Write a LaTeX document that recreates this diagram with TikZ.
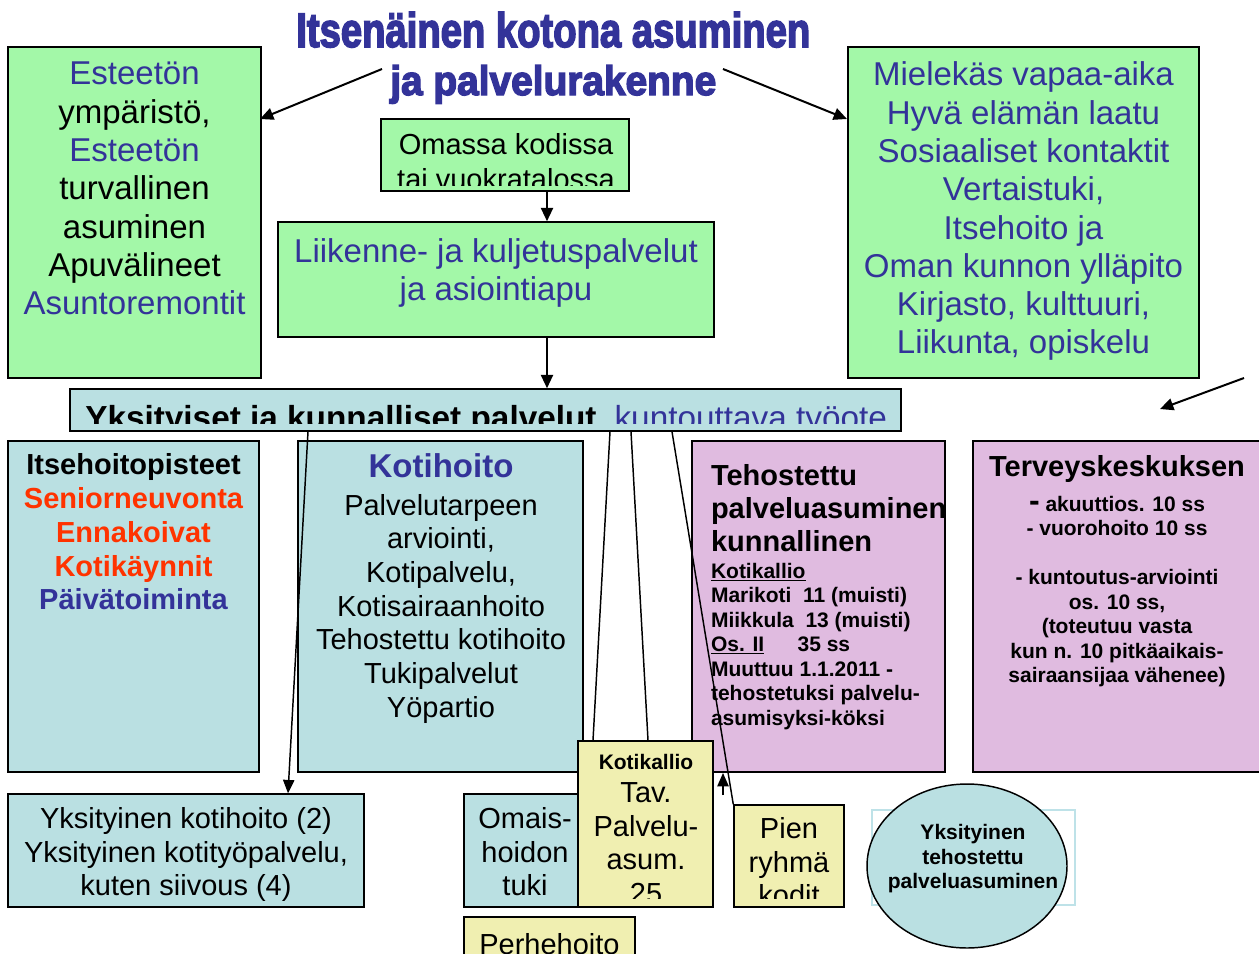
\documentclass[tikz,border=0pt]{standalone}
\usepackage{fontspec}
\setmainfont{Liberation Sans}
\newfontfamily\titlef[BoldFeatures={FakeBold=3.5}]{Liberation Sans}
\usetikzlibrary{arrows.meta,fit,shapes.geometric}
\definecolor{grn}{RGB}{163,248,168}
\definecolor{lbl}{RGB}{186,224,226}
\definecolor{pnk}{RGB}{224,187,224}
\definecolor{ylw}{RGB}{240,239,177}
\definecolor{dblue}{RGB}{51,51,153}
\definecolor{ored}{RGB}{255,51,0}
\definecolor{faint}{RGB}{190,226,232}
\newcommand\fs[2]{\fontsize{#1}{#2}\selectfont}
\begin{document}
\begin{tikzpicture}[x=0.75pt,y=-0.75pt,
  box/.style={draw=black, line width=1.1pt, inner sep=0pt},
  gbox/.style={box, fill=grn},
  bbox/.style={box, fill=lbl},
  pbox/.style={box, fill=pnk},
  ybox/.style={box, fill=ylw},
  tx/.style={inner sep=0pt, outer sep=0pt, anchor=north, align=center},
  big/.style={tx, font=\fs{24.75pt}{28.7pt}},
  mid/.style={tx, font=\fs{21.75pt}{25.1pt}},
  midb/.style={tx, font=\fs{21.75pt}{25.3pt}\bfseries},
  sml/.style={tx, font=\fs{15.75pt}{18.4pt}\bfseries},
  conn/.style={line width=1.1pt},
  arr/.style={line width=1.5pt, -{Triangle[length=10pt,width=9pt]}},
  arrs/.style={line width=1.1pt, -{Triangle[length=10pt,width=8.5pt]}},
]
\useasboundingbox (0,0) rectangle (1259,953);

% ---------- title ----------
\node[anchor=base west, inner sep=0pt, text=dblue] (t1) at (296,47)
  {\resizebox{385.5pt}{26.25pt}{\titlef\bfseries Itsenäinen kotona asuminen}};
\node[anchor=base west, inner sep=0pt, text=dblue] (t2) at (390,95)
  {\resizebox{244.5pt}{22.5pt}{\titlef\bfseries ja palvelurakenne}};

% ---------- top boxes ----------
\node[gbox, fit={(8,47) (261,378)}] (lbox) {};
\node[big] (ltext) at (134.5,58.2) {\strut{\color{dblue}Esteetön}\\ympäristö,\\{\color{dblue}Esteetön}\\turvallinen\\asuminen\\Apuvälineet\\{\color{dblue}Asuntoremontit}};

\node[gbox, fit={(848,47) (1199,378)}] (rbox) {};
\node[big, text=dblue] (rtext) at (1023.5,59.2) {\strut Mielekäs vapaa-aika\\Hyvä elämän laatu\\Sosiaaliset kontaktit\\Vertaistuki,\\Itsehoito ja\\Oman kunnon ylläpito\\Kirjasto, kulttuuri,\\Liikunta, opiskelu};

\node[gbox, fit={(381,119) (629,191)}] (om) {};
\begin{scope}
  \clip (381,119) rectangle (629,185);
  \node[tx, font=\fs{21.75pt}{26.25pt}] (omtext) at (506,129.5) {\strut Omassa kodissa\\tai vuokratalossa};
\end{scope}

\node[gbox, fit={(278,222) (714,337)}] (lk) {};
\node[big, text=dblue] (lktext) at (496,235.7) {\strut Liikenne- ja kuljetuspalvelut\\ja asiointiapu};

% ---------- bar ----------
\node[bbox, fit={(70,389) (901,431)}] (bar) {};
\begin{scope}
  \clip (70,389) rectangle (901,423.5);
  \node[anchor=base west, inner sep=0pt, font=\fs{25pt}{28.7pt}] (bartext) at (85,429.8)
    {\textbf{Yksityiset ja kunnalliset palvelut}\hspace{13.5pt}{\color{dblue}kuntouttava työote}};
\end{scope}

% ---------- middle row ----------
\node[bbox, fit={(8,441) (259,772)}] (ih) {};
\node[midb] (ihtext) at (133.5,451.3) {\strut Itsehoitopisteet\\{\color{ored}Seniorneuvonta}\\{\color{ored}Ennakoivat}\\{\color{ored}Kotikäynnit}\\{\color{dblue}Päivätoiminta}};

\node[bbox, fit={(298,441) (583,772)}] (kh) {};
\node[tx, font=\fs{24.75pt}{28.7pt}\bfseries, text=dblue] (khtitle) at (441,451.2) {\strut Kotihoito};
\node[tx, font=\fs{21.75pt}{25.3pt}] (khtext) at (441,491.4) {\strut Palvelutarpeen\\arviointi,\\Kotipalvelu,\\Kotisairaanhoito\\Tehostettu kotihoito\\Tukipalvelut\\Yöpartio};

\node[pbox, fit={(692,441) (945,772)}] (tp) {};
\node[tx, anchor=north west, align=left, font=\fs{21.75pt}{24.75pt}\bfseries] (tptitle) at (711,461.9) {\strut Tehostettu\\palveluasuminen\\kunnallinen};
\node[tx, anchor=north west, align=left, font=\fs{15.75pt}{18.4pt}\bfseries] (tptext) at (711,560.9)
  {\strut\underline{Kotikallio}\\Marikoti\ \ 11 (muisti)\\Miikkula\ \ 13 (muisti)\\\underline{Os. II}\hspace{25pt}35 ss\\Muuttuu 1.1.2011 -\\tehostetuksi palvelu-\\asumisyksi-köksi};

\node[pbox, fit={(973,441) (1275,772)}] (tk) {};
\node[tx, font=\fs{21.75pt}{24.75pt}\bfseries] (tktitle) at (1117,452.9) {\strut Terveyskeskuksen};
\node[sml] (tktext) at (1117,493.9) {\strut{\fontsize{24pt}{18.4pt}\selectfont -} akuuttios. 10 ss\\- vuorohoito 10 ss\\\mbox{}\\- kuntoutus-arviointi\\os. 10 ss,\\(toteutuu vasta\\kun n. 10 pitkäaikais-\\sairaansijaa vähenee)};

% ---------- bottom row ----------
\node[bbox, fit={(8,794) (364,907)}] (ykh) {};
\node[mid] (ykhtext) at (186,805.5) {\strut Yksityinen kotihoito (2)\\Yksityinen kotityöpalvelu,\\kuten siivous (4)};

\node[bbox, fit={(464,794) (584,907)}] (oh) {};
\node[mid] (ohtext) at (525,805.5) {\strut Omais-\\hoidon\\tuki};

\node[ybox, fit={(578,741) (713,907)}] (kk) {};
\node[sml] (kktitle) at (646,752.4) {\strut Kotikallio};
\begin{scope}
  \clip (578,741) rectangle (713,898);
  \node[mid] (kktext) at (646,779.5) {\strut Tav.\\Palvelu-\\asum.\\25};
\end{scope}

\node[ybox, fit={(734,805) (844,907)}] (pr) {};
\begin{scope}
  \clip (734,805) rectangle (844,898);
  \node[mid] (prtext) at (789,815.5) {\strut Pien\\ryhmä\\kodit};
\end{scope}

\node[ybox, fit={(464,917) (635,970)}] (ph) {};
\node[mid] (phtext) at (549.5,931) {\strut Perhehoito};

\node[fit={(872,810) (1075,905)}, draw=faint, line width=0.8pt, inner sep=0pt] (elr) {};
\node[draw=black, fill=lbl, ellipse, line width=1.1pt, inner sep=0pt,
      minimum width=150pt, minimum height=123pt] (el) at (967,866) {};
\node[sml] (eltext) at (973,822.4) {\strut Yksityinen\\tehostettu\\palveluasuminen};

% ---------- connectors ----------
\coordinate (ta1) at (382,69);
\coordinate (ta1e) at (260,119);
\coordinate (ta2) at (723,69);
\coordinate (ta2e) at (847,119);
\draw[arr] (ta1) -- (ta1e);
\draw[arr] (ta2) -- (ta2e);

\coordinate (ax) at (547,0);
\draw[arr] (om.south -| ax) -- (lk.north -| ax);
\draw[arr] (lk.south -| ax) -- (bar.north -| ax);

\coordinate (ra1) at (1244,378);
\coordinate (ra2) at (1160,409);
\draw[arr] (ra1) -- (ra2);

\coordinate (c1) at (308,0);
\coordinate (c2) at (288,0);
\draw[arrs] (bar.south -| c1) -- (ykh.north -| c2);

\coordinate (c3) at (610,0);
\coordinate (c4) at (593,0);
\coordinate (c5) at (631,0);
\coordinate (c6) at (648,0);
\coordinate (c7) at (672,0);
\draw[conn] (bar.south -| c3) -- (kk.north -| c4);
\draw[conn] (bar.south -| c5) -- (kk.north -| c6);
\draw[conn] (bar.south -| c7) -- (pr.north west);

\coordinate (ua1) at (723,795);
\coordinate (ua2) at (723,773);
\draw[arrs] (ua1) -- (ua2);
\end{tikzpicture}
\end{document}
